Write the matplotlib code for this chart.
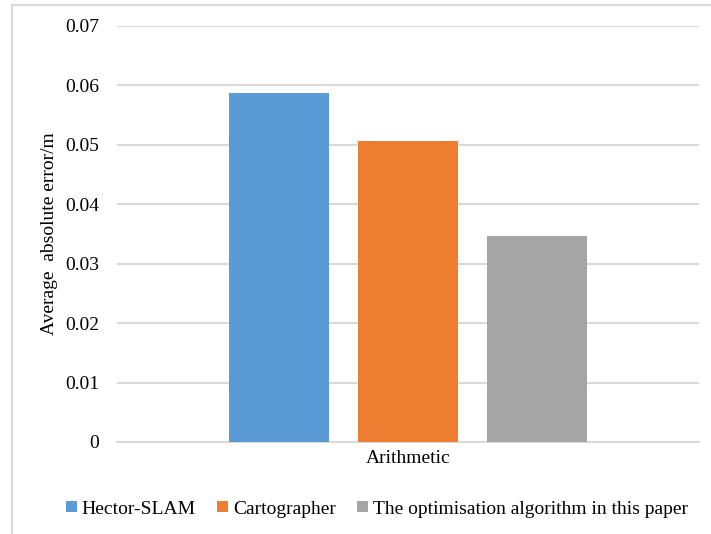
import matplotlib.pyplot as plt
from matplotlib.patches import Rectangle

plt.rcParams['font.family'] = ['Liberation Serif', 'DejaVu Serif']

category = 'Arithmetic'
methods = ['Hector-SLAM', 'Cartographer', 'The optimisation algorithm in this paper']
errors = [0.0588, 0.0506, 0.0346]
colors = ['#5b9bd5', '#ed7d31', '#a5a5a5']
y_ticks = [0, 0.01, 0.02, 0.03, 0.04, 0.05, 0.06, 0.07]
y_tick_labels = ['0', '0.01', '0.02', '0.03', '0.04', '0.05', '0.06', '0.07']

W, H = 711, 534
fig = plt.figure(figsize=(W / 100, H / 100), dpi=100)
ax = fig.add_axes([117 / W, 1 - 442 / H, 582 / W, 416 / H])

bar_w = 100 / 582
step = 129 / 582
for i, (name, val, col) in enumerate(zip(methods, errors, colors)):
    ax.bar((i - 1) * step, val, width=bar_w, color=col, label=name, zorder=3)

ax.set_xlim(-0.5, 0.5)
ax.set_ylim(0, 0.07)
ax.set_yticks(y_ticks)
ax.set_yticklabels(y_tick_labels, fontsize=14)
ax.set_xticks([0])
ax.set_xticklabels([category], fontsize=14)
ax.tick_params(length=0, pad=13, axis='y')
ax.tick_params(length=0, pad=6, axis='x')
ax.yaxis.grid(True, color='#d9d9d9', linewidth=1.5, zorder=0)
ax.set_axisbelow(True)
for s in ['top', 'right', 'left']:
    ax.spines[s].set_visible(False)
ax.spines['bottom'].set_color('#d9d9d9')
ax.spines['bottom'].set_linewidth(1.5)
ax.set_ylabel('Average  absolute error/m', fontsize=14, labelpad=5)

fig.legend(loc='center', bbox_to_anchor=(377 / W, 1 - 509 / H), ncol=3,
           frameon=False, fontsize=14, handlelength=0.55, handleheight=0.55,
           handletextpad=0.25, columnspacing=1.1)

# outer chart frame
fig.patches.append(Rectangle((12 / W, -0.1), 1.2, 1 - 5 / H + 0.1,
                             transform=fig.transFigure, fill=False,
                             edgecolor='#d9d9d9', linewidth=1.5))

fig.savefig('out.png', dpi=100)
